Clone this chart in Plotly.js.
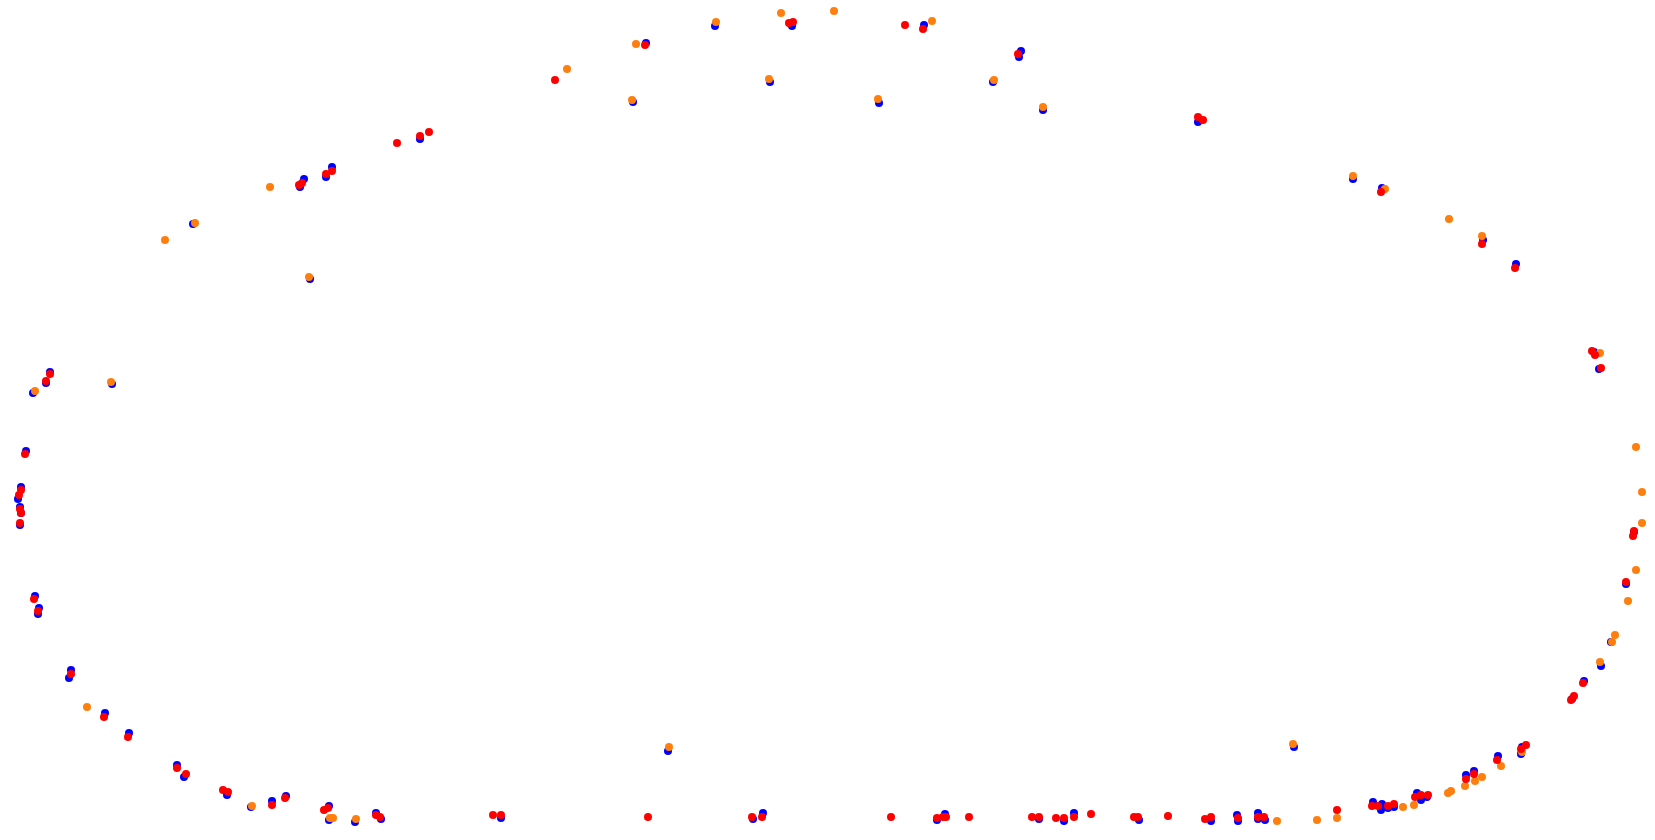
<!DOCTYPE html>
<html>
<head>
<meta charset="utf-8">
<script src="https://cdn.plot.ly/plotly-3.0.1.min.js"></script>
<style>html,body{margin:0;padding:0;background:#fff;}#chart{width:1655px;height:840px;}</style>
</head>
<body>
<div id="chart"></div>
<script>
// Series values (x, y positions in chart units)
const blueX = [332,326,304,300,193,310,420,646,633,715,792,770,924,1021,1019,993,879,1043,1198,1353,1382,1483,1516,50,46,33,112,26,21,18,20,21,20,1594,1599,1634,35,39,38,71,69,105,129,177,184,227,251,272,286,329,329,355,376,381,1626,1611,1601,1584,1572,1294,1522,1521,1498,1474,1466,1427,1417,1421,1394,1388,1382,1381,1373,1265,1258,1258,1237,1238,501,668,753,763,937,945,1039,1064,1074,1139,1211];
const blueY = [167,177,179,187,224,279,139,43,102,26,26,82,25,51,57,82,103,110,122,179,188,240,264,372,383,393,384,451,487,499,507,513,525,352,369,532,596,608,614,670,678,713,733,765,777,795,807,801,796,806,820,822,813,819,584,642,666,681,699,747,747,754,756,771,775,797,793,800,807,808,804,810,802,820,813,819,815,821,818,751,819,813,820,814,819,821,813,820,821];

const orangeX = [270,195,165,309,567,636,632,716,781,769,834,932,994,878,1043,1353,1385,1449,1482,35,111,1600,1636,1642,1642,1636,87,252,330,333,356,1628,1615,1612,1600,1293,1522,1501,1475,1482,1465,1448,1451,1414,1403,1337,1317,1277,669];
const orangeY = [187,223,240,277,69,44,100,22,13,79,11,21,80,99,107,176,189,219,236,391,382,353,447,492,523,570,707,806,818,818,819,601,635,642,662,744,752,766,781,777,786,793,791,805,807,818,820,821,747];

const redX = [397,420,429,332,326,302,299,555,645,793,789,905,923,1018,1198,1203,1381,1482,1515,50,46,25,21,19,20,21,20,1592,1595,1601,1634,1633,34,38,71,104,128,177,186,223,228,272,285,324,328,376,380,1626,1583,1574,1571,1526,1521,1497,1474,1466,1428,1415,1421,1394,1388,1378,1372,1337,1258,1264,1238,493,501,648,752,762,891,937,943,946,969,1032,1039,1056,1064,1074,1091,1134,1138,1168,1205,1211];
const redY = [143,136,132,171,174,183,185,80,45,22,23,25,29,54,117,120,192,244,268,374,381,454,490,495,509,513,523,351,355,368,531,536,599,611,674,717,737,768,774,790,792,805,798,810,808,815,817,582,683,696,700,745,749,760,774,779,795,797,795,804,806,806,806,810,817,817,818,815,815,817,817,817,817,818,817,817,817,817,817,818,818,817,814,817,817,816,819,817];

const seriesNames = ['blue', 'orange', 'red'];
const seriesColors = ['#0000ff', '#ff7f0e', '#ff0000'];
const seriesX = [blueX, orangeX, redX];
const seriesY = [blueY, orangeY, redY];

const traces = seriesNames.map((n, i) => ({
  type: 'scatter',
  mode: 'markers',
  name: n,
  x: seriesX[i],
  y: seriesY[i],
  marker: {color: seriesColors[i], size: 8, line: {width: 0}},
  hoverinfo: 'x+y'
}));

const layout = {
  width: 1655,
  height: 840,
  margin: {l: 0, r: 0, t: 0, b: 0, pad: 0},
  paper_bgcolor: '#ffffff',
  plot_bgcolor: '#ffffff',
  showlegend: false,
  xaxis: {range: [0, 1655], visible: false, showgrid: false, zeroline: false, fixedrange: true},
  yaxis: {range: [840, 0], visible: false, showgrid: false, zeroline: false, fixedrange: true}
};

Plotly.newPlot('chart', traces, layout, {displayModeBar: false, staticPlot: true});
</script>
</body>
</html>
